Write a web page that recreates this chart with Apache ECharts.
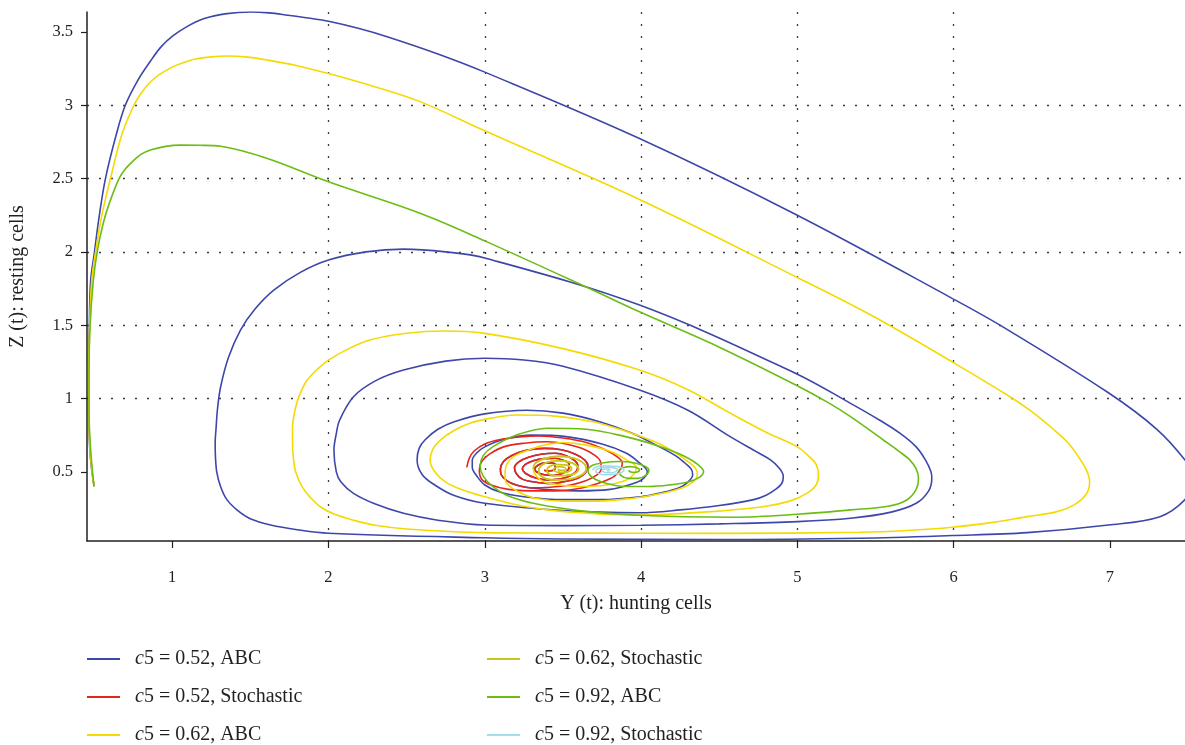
<!DOCTYPE html>
<html>
<head>
<meta charset="utf-8">
<script src="https://cdn.jsdelivr.net/npm/echarts@6/dist/echarts.min.js"></script>
<style>
  html, body { margin: 0; padding: 0; background: #ffffff; }
  #chart { width: 1185px; height: 745px; }
</style>
</head>
<body>
<div id="chart"></div>
<script>
// Tick values of both axes
const xTicks = [1, 2, 3, 4, 5, 6, 7];
const yTicks = [0.5, 1, 1.5, 2, 2.5, 3, 3.5];

// Series names, in legend order
const seriesNames = [
  'c5 = 0.52, ABC',
  'c5 = 0.52, Stochastic',
  'c5 = 0.62, ABC',
  'c5 = 0.62, Stochastic',
  'c5 = 0.92, ABC',
  'c5 = 0.92, Stochastic'
];

// Trajectories in the (Y, Z) phase plane: [Y(t), Z(t)]
const sto052 = [
  [2.885,0.53],[2.90,0.59],[2.93,0.64],[3.00,0.69],[3.10,0.72],[3.22,0.737],[3.35,0.744],[3.50,0.73],
  [3.65,0.70],[3.77,0.65],[3.85,0.60],[3.88,0.56],[3.87,0.52],[3.83,0.47],[3.75,0.43],[3.62,0.39],
  [3.45,0.37],[3.28,0.37],[3.15,0.38],[3.04,0.41],[2.98,0.45],[2.965,0.51],[2.98,0.57],[3.03,0.62],
  [3.12,0.67],[3.25,0.695],[3.40,0.705],[3.52,0.69],[3.62,0.66],[3.70,0.615],[3.74,0.57],[3.745,0.52],
  [3.72,0.48],[3.65,0.44],[3.55,0.41],[3.42,0.395],[3.30,0.39],[3.20,0.41],[3.14,0.44],[3.105,0.48],
  [3.10,0.52],[3.12,0.57],[3.17,0.61],[3.26,0.645],[3.38,0.66],[3.49,0.65],[3.58,0.62],[3.64,0.58],
  [3.66,0.54],[3.645,0.495],[3.60,0.46],[3.52,0.435],[3.42,0.42],[3.32,0.43],[3.24,0.45],[3.20,0.49],
  [3.19,0.53],[3.22,0.57],[3.28,0.60],[3.36,0.62],[3.45,0.626],[3.52,0.61],[3.57,0.58],[3.595,0.545],
  [3.59,0.51],[3.55,0.475],[3.48,0.45],[3.40,0.445],[3.32,0.46],[3.26,0.49],[3.24,0.52],[3.26,0.55],
  [3.31,0.575],[3.38,0.59],[3.45,0.592],[3.51,0.575],[3.54,0.55],[3.535,0.515],[3.50,0.49],[3.44,0.475],
  [3.38,0.48],[3.33,0.50],[3.32,0.52],[3.34,0.545],[3.38,0.56],[3.43,0.56],[3.45,0.55],[3.45,0.525],
  [3.44,0.51],[3.40,0.505],[3.38,0.51]
];

const abc052 = [
  [0.50,0.40],[0.475,0.62],[0.466,0.90],[0.465,1.20],[0.470,1.50],[0.478,1.80],[0.503,2.00],[0.53,2.22],
  [0.573,2.50],[0.644,2.807],[0.70,3.00],[0.78,3.17],[0.86,3.30],[0.93,3.40],[1.006,3.475],[1.10,3.54],
  [1.20,3.59],[1.35,3.625],[1.50,3.636],[1.62,3.630],[1.74,3.614],[1.87,3.595],[2.00,3.573],[2.19,3.525],
  [2.38,3.466],[2.70,3.35],[3.00,3.226],[3.99,2.773],[4.99,2.255],[5.99,1.683],[6.32,1.485],[6.99,1.039],
  [7.30,0.79],[7.48,0.58],[7.55,0.45],[7.48,0.31],[7.32,0.194],[6.99,0.137],[6.47,0.085],[5.99,0.065],
  [5.40,0.047],[4.50,0.038],[3.50,0.042],[3.00,0.05],[2.00,0.081],[1.80,0.105],[1.63,0.137],[1.50,0.18],
  [1.416,0.239],[1.35,0.31],[1.31,0.398],[1.285,0.50],[1.277,0.60],[1.275,0.70],[1.28,0.785],[1.29,0.93],
  [1.31,1.08],[1.36,1.28],[1.437,1.467],[1.53,1.61],[1.65,1.739],[1.82,1.86],[2.00,1.944],[2.24,2.00],
  [2.48,2.019],[2.75,2.00],[3.00,1.958],[3.99,1.637],[4.99,1.171],[5.34,0.967],[5.53,0.85],[5.66,0.76],
  [5.76,0.67],[5.82,0.58],[5.855,0.50],[5.86,0.456],[5.84,0.37],[5.76,0.285],[5.60,0.225],[5.34,0.183],
  [5.00,0.16],[4.50,0.145],[4.00,0.135],[3.50,0.133],[3.00,0.137],[2.70,0.17],[2.48,0.217],[2.30,0.28],
  [2.16,0.353],[2.08,0.43],[2.05,0.50],[2.035,0.65],[2.05,0.76],[2.07,0.85],[2.16,1.012],[2.30,1.12],
  [2.48,1.194],[2.75,1.255],[3.00,1.274],[3.25,1.262],[3.50,1.22],[3.99,1.058],[4.30,0.92],[4.57,0.74],
  [4.75,0.63],[4.83,0.58],[4.88,0.53],[4.91,0.47],[4.90,0.42],[4.86,0.38],[4.80,0.34],[4.72,0.31],
  [4.50,0.27],[4.25,0.24],[3.99,0.221],[3.50,0.235],[3.00,0.285],[2.80,0.34],[2.68,0.41],[2.60,0.48],
  [2.567,0.58],[2.58,0.66],[2.62,0.72],[2.70,0.79],[2.80,0.84],[3.00,0.895],[3.27,0.92],[3.50,0.90],
  [3.74,0.84],[3.95,0.76],[4.10,0.68],[4.22,0.61],[4.28,0.56],[4.32,0.52],[4.33,0.48],[4.30,0.43],
  [4.24,0.39],[4.12,0.355],[4.00,0.33],[3.75,0.31],[3.50,0.31],[3.25,0.33],[3.10,0.36],[3.00,0.41],
  [2.95,0.47],[2.92,0.53],[2.92,0.58],[2.95,0.63],[3.00,0.67],[3.12,0.72],[3.30,0.75],[3.52,0.74],
  [3.75,0.69],[3.90,0.63],[3.98,0.57],[4.04,0.50],[4.01,0.45],[3.95,0.42],[3.80,0.38],[3.60,0.37],
  [3.45,0.375],[3.30,0.39],[3.20,0.41],[3.14,0.44],[3.105,0.48],[3.10,0.52],[3.12,0.57],[3.17,0.61],
  [3.26,0.645],[3.38,0.66],[3.49,0.65],[3.58,0.62],[3.64,0.58],[3.66,0.54],[3.645,0.495],[3.60,0.46],
  [3.52,0.435],[3.42,0.42],[3.32,0.43],[3.24,0.45],[3.20,0.49],[3.19,0.53],[3.22,0.57],[3.28,0.60],
  [3.36,0.62],[3.45,0.626],[3.52,0.61],[3.57,0.58],[3.595,0.545],[3.59,0.51],[3.55,0.475],[3.48,0.45],
  [3.40,0.445],[3.32,0.46],[3.26,0.49],[3.24,0.52],[3.26,0.55],[3.31,0.575],[3.38,0.59],[3.45,0.592],
  [3.51,0.575],[3.54,0.55],[3.535,0.515],[3.50,0.49],[3.44,0.475],[3.38,0.48],[3.33,0.50],[3.32,0.52],
  [3.34,0.545],[3.38,0.56],[3.43,0.56],[3.45,0.55],[3.45,0.525],[3.44,0.51],[3.40,0.505],[3.38,0.51]
];

const sto062 = [
  [3.31,0.52],[3.32,0.555],[3.36,0.58],[3.42,0.60],[3.48,0.605],[3.55,0.597],[3.60,0.58],[3.64,0.55],
  [3.65,0.52],[3.63,0.485],[3.58,0.46],[3.52,0.447],[3.45,0.445],[3.39,0.455],[3.35,0.48],[3.345,0.51],
  [3.36,0.54],[3.40,0.565],[3.45,0.575],[3.51,0.573],[3.56,0.56],[3.59,0.54],[3.60,0.52],[3.58,0.49],
  [3.52,0.475],[3.46,0.473],[3.42,0.48],[3.40,0.50],[3.40,0.52],[3.42,0.54],[3.46,0.55],[3.51,0.548],
  [3.54,0.54],[3.555,0.525],[3.55,0.51],[3.52,0.497],[3.48,0.495],[3.45,0.503],[3.44,0.515],[3.45,0.528],
  [3.48,0.535],[3.51,0.53],[3.52,0.52],[3.51,0.51],[3.48,0.51],[3.47,0.52]
];

const abc062 = [
  [0.50,0.40],[0.476,0.62],[0.467,0.90],[0.466,1.20],[0.472,1.50],[0.485,1.80],[0.51,2.00],[0.55,2.25],
  [0.605,2.50],[0.68,2.807],[0.755,3.00],[0.80,3.08],[0.851,3.148],[0.92,3.21],[1.00,3.26],[1.07,3.29],
  [1.15,3.315],[1.25,3.33],[1.35,3.336],[1.47,3.33],[1.60,3.31],[1.80,3.27],[2.00,3.216],[2.30,3.125],
  [2.59,3.023],[3.00,2.826],[3.99,2.357],[4.99,1.83],[5.47,1.569],[5.99,1.25],[6.36,1.012],[6.50,0.91],
  [6.63,0.797],[6.73,0.70],[6.80,0.60],[6.85,0.51],[6.87,0.433],[6.85,0.35],[6.77,0.274],[6.65,0.225],
  [6.47,0.194],[6.25,0.155],[5.99,0.122],[5.70,0.10],[5.40,0.088],[4.50,0.08],[3.50,0.082],[3.00,0.085],
  [2.50,0.11],[2.30,0.135],[2.16,0.17],[2.04,0.21],[1.95,0.26],[1.88,0.33],[1.83,0.40],[1.79,0.50],
  [1.775,0.60],[1.77,0.70],[1.77,0.80],[1.78,0.89],[1.80,0.98],[1.83,1.06],[1.864,1.126],[1.93,1.20],
  [2.00,1.262],[2.13,1.34],[2.27,1.40],[2.50,1.445],[2.74,1.46],[3.00,1.444],[3.50,1.34],[3.99,1.194],
  [4.30,1.06],[4.57,0.90],[4.80,0.77],[5.00,0.67],[5.08,0.60],[5.12,0.55],[5.135,0.478],[5.12,0.41],
  [5.06,0.353],[4.95,0.30],[4.78,0.262],[4.40,0.225],[3.99,0.205],[3.70,0.215],[3.40,0.24],[3.18,0.28],
  [3.00,0.33],[2.85,0.38],[2.75,0.43],[2.68,0.50],[2.65,0.58],[2.67,0.66],[2.72,0.72],[2.80,0.78],
  [2.90,0.83],[3.04,0.866],[3.20,0.887],[3.45,0.88],[3.70,0.84],[3.92,0.77],[4.10,0.70],[4.22,0.63],
  [4.30,0.57],[4.35,0.52],[4.36,0.48],[4.33,0.43],[4.26,0.39],[4.12,0.35],[3.95,0.32],[3.72,0.30],
  [3.50,0.30],[3.32,0.32],[3.22,0.36],[3.15,0.41],[3.13,0.45],[3.13,0.50],[3.14,0.55],[3.18,0.60],
  [3.26,0.64],[3.37,0.68],[3.50,0.70],[3.66,0.68],[3.80,0.64],[3.91,0.58],[3.97,0.53],[3.95,0.48],
  [3.90,0.44],[3.78,0.41],[3.62,0.40],[3.48,0.41],[3.38,0.43],[3.33,0.47],[3.31,0.52],[3.32,0.555],
  [3.36,0.58],[3.42,0.60],[3.48,0.605],[3.55,0.597],[3.60,0.58],[3.64,0.55],[3.65,0.52],[3.63,0.485],
  [3.58,0.46],[3.52,0.447],[3.45,0.445],[3.39,0.455],[3.35,0.48],[3.345,0.51],[3.36,0.54],[3.40,0.565],
  [3.45,0.575],[3.51,0.573],[3.56,0.56],[3.59,0.54],[3.60,0.52],[3.58,0.49],[3.52,0.475],[3.46,0.473],
  [3.42,0.48],[3.40,0.50],[3.40,0.52],[3.42,0.54],[3.46,0.55],[3.51,0.548],[3.54,0.54],[3.555,0.525],
  [3.55,0.51],[3.52,0.497],[3.48,0.495],[3.47,0.52]
];

const abc092 = [
  [0.50,0.40],[0.482,0.60],[0.468,0.90],[0.468,1.20],[0.475,1.50],[0.495,1.80],[0.52,2.00],[0.56,2.20],
  [0.605,2.353],[0.66,2.50],[0.70,2.565],[0.755,2.625],[0.80,2.665],[0.861,2.694],[0.95,2.718],[1.053,2.728],
  [1.18,2.727],[1.31,2.72],[1.60,2.64],[2.00,2.478],[2.59,2.262],[3.00,2.075],[3.70,1.735],[3.99,1.591],
  [4.50,1.35],[4.99,1.092],[5.20,0.97],[5.34,0.876],[5.55,0.717],[5.65,0.64],[5.72,0.58],[5.76,0.52],
  [5.775,0.456],[5.76,0.38],[5.70,0.308],[5.58,0.265],[5.34,0.24],[5.00,0.21],[4.59,0.19],[3.95,0.205],
  [3.60,0.235],[3.31,0.285],[3.14,0.34],[3.05,0.40],[2.99,0.47],[2.97,0.54],[2.99,0.61],[3.05,0.67],
  [3.20,0.75],[3.40,0.797],[3.65,0.79],[3.90,0.74],[4.10,0.68],[4.25,0.62],[4.35,0.56],[4.40,0.50],
  [4.37,0.46],[4.30,0.43],[4.18,0.41],[4.05,0.40],[3.90,0.40],[3.78,0.42],[3.69,0.46],[3.66,0.51],
  [3.69,0.545],[3.75,0.56],[3.86,0.57],[3.96,0.56],[4.03,0.535],[4.05,0.51],[4.03,0.475],[3.98,0.455],
  [3.92,0.455],[3.87,0.475],[3.86,0.51],[3.89,0.53],[3.93,0.535],[3.98,0.525],[3.99,0.51],[3.96,0.495],
  [3.93,0.50],[3.92,0.51]
];

const sto092 = [
  [3.69,0.51],[3.70,0.525],[3.72,0.535],[3.75,0.541],[3.79,0.54],[3.84,0.537],[3.87,0.53],[3.885,0.52],
  [3.89,0.51],[3.875,0.495],[3.84,0.485],[3.80,0.48],[3.76,0.48],[3.73,0.487],[3.71,0.50],[3.715,0.515],
  [3.74,0.525],[3.77,0.531],[3.80,0.53],[3.83,0.525],[3.85,0.515],[3.84,0.503],[3.82,0.495],[3.79,0.493],
  [3.77,0.495],[3.755,0.503],[3.75,0.51],[3.76,0.517],[3.78,0.52],[3.795,0.517],[3.80,0.51],[3.79,0.505],
  [3.78,0.505]
];

const trajectories = [abc052, sto052, abc062, sto062, abc092, sto092];
const palette = ['#3d47a9', '#e5261e', '#f4da00', '#c9c31c', '#6cbd12', '#a3dcea'];

const FONT = '"Liberation Serif", "DejaVu Serif", serif';
const INK = '#231f20';

const chart = echarts.init(document.getElementById('chart'), null, { renderer: 'canvas' });

const legendText = {
  fontFamily: FONT,
  fontSize: 20,
  color: INK,
  rich: {
    g: { width: 10 },
    i: { fontFamily: FONT, fontSize: 20, fontStyle: 'italic', color: INK }
  }
};
const legendFormatter = name => '{g| }{i|c}' + name.slice(1);

// One vertical legend column; the box is made tall enough so it never wraps
function legendColumn(names, left) {
  return {
    data: names,
    orient: 'vertical',
    left: left,
    top: 649,
    height: 160,
    icon: 'rect',
    itemWidth: 33,
    itemHeight: 2,
    itemGap: 18,
    padding: 0,
    selectedMode: false,
    textStyle: legendText,
    formatter: legendFormatter
  };
}

const gridLine = { color: '#3a3a3a', width: 1.3, type: [2, 10] };

const option = {
  animation: false,
  backgroundColor: '#ffffff',
  color: palette,
  grid: { left: 87, right: 0, top: 12, bottom: 204, containLabel: false },
  legend: [
    legendColumn(seriesNames.slice(0, 3), 87),
    legendColumn(seriesNames.slice(3, 6), 487)
  ],
  xAxis: {
    type: 'value',
    min: 0.455,
    max: 7.48,
    splitNumber: 7,
    name: 'Y (t): hunting cells',
    nameLocation: 'middle',
    nameGap: 53,
    nameTextStyle: { fontFamily: FONT, fontSize: 20, color: INK },
    axisLine: { show: true, onZero: false, lineStyle: { color: INK, width: 1.5 } },
    axisTick: { show: true, length: 7, customValues: xTicks, lineStyle: { color: INK, width: 1.2 } },
    axisLabel: { customValues: xTicks, margin: 28, fontFamily: FONT, fontSize: 16.5, color: INK },
    splitLine: { show: true, showMinLine: false, showMaxLine: false, lineStyle: gridLine }
  },
  yAxis: {
    type: 'value',
    min: 0.028,
    max: 3.636,
    splitNumber: 7,
    name: 'Z (t): resting cells',
    nameLocation: 'middle',
    nameGap: 59,
    nameTextStyle: { fontFamily: FONT, fontSize: 20, color: INK },
    axisLine: { show: true, onZero: false, lineStyle: { color: INK, width: 1.5 } },
    axisTick: { show: true, length: 6, customValues: yTicks, lineStyle: { color: INK, width: 1.2 } },
    axisLabel: { customValues: yTicks, margin: 14, fontFamily: FONT, fontSize: 16.5, color: INK },
    splitLine: { show: true, showMinLine: false, showMaxLine: false, lineStyle: gridLine }
  },
  series: trajectories.map((pts, i) => ({
    name: seriesNames[i],
    type: 'line',
    data: pts,
    showSymbol: false,
    smooth: 0.35,
    clip: true,
    lineStyle: { width: 1.6 },
    emphasis: { disabled: true }
  }))
};

chart.setOption(option);
</script>
</body>
</html>
